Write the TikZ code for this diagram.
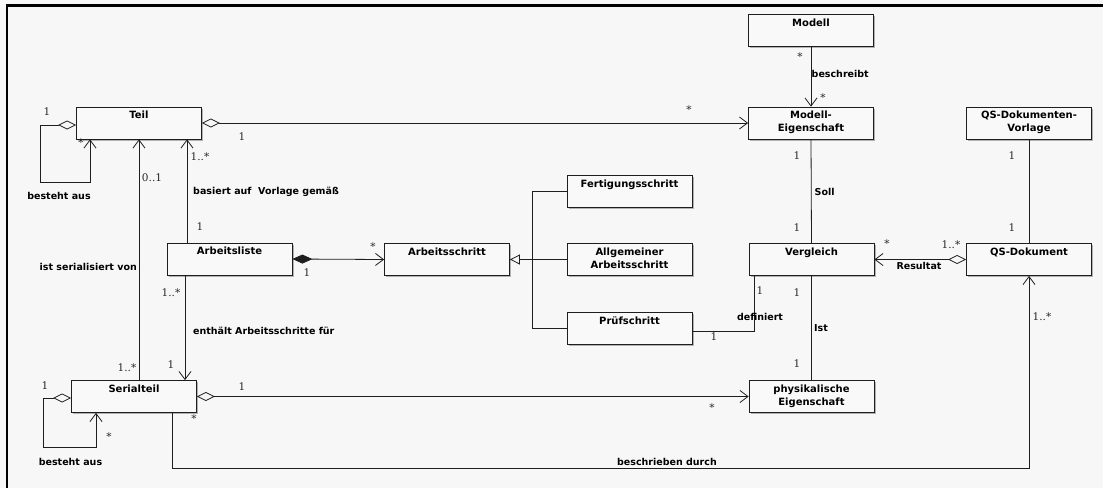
\documentclass[tikz,border=0pt]{standalone}
\usepackage{fontspec}
\setmainfont{DejaVu Sans}
\newfontfamily\multfont{DejaVu Serif}
\usetikzlibrary{arrows.meta,shadows}
\definecolor{bg}{HTML}{F7F7F7}
\definecolor{boxfill}{HTML}{F9F9F9}
\definecolor{ln}{HTML}{1E1E1E}
\definecolor{mc}{HTML}{2A2A2A}
\begin{document}
\begin{tikzpicture}[x=1pt,y=-1pt,
  cls/.style={draw=ln, line width=0.8pt, fill=boxfill, minimum width=125pt, minimum height=32pt, inner sep=0pt,
    general shadow={fill=gray!60, shadow xshift=1.6pt, shadow yshift=-1.6pt},
    label={[clsname]north:#1}},
  clsname/.style={anchor=north, yshift=-4.5pt, inner sep=0pt, align=center, text=black,
    font=\bfseries\fontsize{10}{12.8}\selectfont},
  elab/.style={inner sep=0pt, text=black, font=\bfseries\fontsize{9.5}{11}\selectfont},
  mult/.style={inner sep=0pt, text=mc, font=\multfont\fontsize{10.5}{11}\selectfont},
  conn/.style={draw=ln, line width=0.8pt},
  assoc/.style={conn, -{Straight Barb[length=8pt,width=12pt]}},
  aggr/.style={conn, {Diamond[open,length=18pt,width=9pt]}-{Straight Barb[length=8pt,width=12pt]}},
  comp/.style={conn, {Diamond[length=20pt,width=9pt]}-{Straight Barb[length=8pt,width=12pt]}},
  gen/.style={conn, -{Triangle[open,length=10pt,width=10pt]}}
]
\useasboundingbox (0,0) rectangle (1103,488);
\fill[bg] (0,0) rectangle (1103,488);
\draw[line width=2.6pt, black] (7,488) -- (7,5.3) -- (1103,5.3);

% classes
\node[cls=Teil] (teil) at (139,123) {};
\node[cls=Arbeitsliste] (aliste) at (229.5,259) {};
\node[cls=Serialteil] (serial) at (134,396.5) {};
\node[cls=Arbeitsschritt] (aschritt) at (447,259.5) {};
\node[cls=Fertigungsschritt] (fert) at (629.5,191.5) {};
\node[cls={Allgemeiner\\Arbeitsschritt}] (allg) at (629.5,259.5) {};
\node[cls=Prüfschritt] (pruef) at (629.5,328) {};
\node[cls=Modell] (modell) at (811,30.5) {};
\node[cls={Modell-\\Eigenschaft}] (meig) at (811,123) {};
\node[cls={QS-Dokumenten-\\Vorlage}] (qsv) at (1029,123) {};
\node[cls=Vergleich] (vergl) at (811.5,259.5) {};
\node[cls=QS-Dokument] (qsdok) at (1029,259.5) {};
\node[cls={physikalische\\Eigenschaft}] (phys) at (811.5,396.5) {};

% helper coordinates
\coordinate (tl1) at (40,182);
\coordinate (sl1) at (43,447);
\coordinate (a1) at ([xshift=-42.5pt]aliste.north);
\coordinate (a2) at ([xshift=-44.5pt]aliste.south);
\coordinate (gj) at (532,259.5);
\coordinate (d1) at ([xshift=-57.5pt]vergl.south);
\coordinate (b1) at ([xshift=38pt]serial.south);
\coordinate (b2) at (1029,468);

% connectors
\draw[aggr] ([yshift=-2pt]teil.west) -| (tl1) -| ([xshift=-49pt]teil.south);
\draw[aggr] ([yshift=-1.5pt]serial.west) -| (sl1) -| ([xshift=-38pt]serial.south);
\draw[assoc] (serial.north -| teil.south) -- (teil.south);
\draw[assoc] (a1) -- (a1 |- teil.south);
\draw[assoc] (a2) -- (a2 |- serial.north);
\draw[aggr] (teil.east) -- (meig.west);
\draw[assoc] (modell.south) -- (meig.north);
\draw[comp] (aliste.east) -- (aschritt.west);
\draw[conn] (fert.west) -| (gj);
\draw[conn] (pruef.west) -| (gj);
\draw[gen] (allg.west) -- (aschritt.east);
\draw[conn] ([yshift=-3pt]pruef.east) -| (d1);
\draw[conn] (meig.south) -- (vergl.north);
\draw[conn] (vergl.south) -- (phys.north);
\draw[conn] (qsv.south) -- (qsdok.north);
\draw[aggr] (qsdok.west) -- (vergl.east);
\draw[aggr] (serial.east) -- (phys.west);
\draw[assoc] (b1) |- (b2) -- (qsdok.south);

% association labels
\node[elab] (l1) at (59,196) {besteht aus};
\node[elab] (l2) at (70.5,462) {besteht aus};
\node[elab, anchor=west] (l3) at (193,192) {basiert auf\ \ Vorlage gemäß};
\node[elab, anchor=east] (l4) at (137,267) {ist serialisiert von};
\node[elab, anchor=west] (l5) at (193,331) {enthält Arbeitsschritte für};
\node[elab, anchor=west] (l6) at (811.5,74) {beschreibt};
\node[elab, anchor=west] (l7) at (814.5,192) {Soll};
\node[elab, anchor=west] (l8) at (814,328) {Ist};
\node[elab] (l9) at (760,317) {definiert};
\node[elab] (l10) at (919,266) {Resultat};
\node[elab, anchor=east] (l11) at (717,462) {beschrieben durch};

% multiplicities
\node[mult] (m1) at (47,112) {1};
\node[mult] (m2) at (81,143) {*};
\node[mult] (m3) at (152,178) {0..1};
\node[mult] (m4) at (200,157) {1..*};
\node[mult] (m5) at (200,227) {1};
\node[mult] (m6) at (242,137) {1};
\node[mult] (m7) at (689,110) {*};
\node[mult] (m8) at (127,368) {1..*};
\node[mult] (m9) at (171,293) {1..*};
\node[mult] (m10) at (171,365) {1};
\node[mult] (m11) at (45,386) {1};
\node[mult] (m12) at (109,437) {*};
\node[mult] (m13) at (242,387) {1};
\node[mult] (m14) at (194,419) {*};
\node[mult] (m15) at (307,273) {1};
\node[mult] (m16) at (373,247) {*};
\node[mult] (m17) at (800,57) {*};
\node[mult] (m18) at (823,98) {*};
\node[mult] (m19) at (797,156) {1};
\node[mult] (m20) at (797,228) {1};
\node[mult] (m21) at (1012,156) {1};
\node[mult] (m22) at (1012,228) {1};
\node[mult] (m23) at (887,244) {*};
\node[mult] (m24) at (951,245) {1..*};
\node[mult] (m25) at (760,291) {1};
\node[mult] (m26) at (797,293) {1};
\node[mult] (m27) at (714,337) {1};
\node[mult] (m28) at (797,364) {1};
\node[mult] (m29) at (712,408) {*};
\node[mult] (m30) at (1042,317) {1..*};
\end{tikzpicture}
\end{document}
